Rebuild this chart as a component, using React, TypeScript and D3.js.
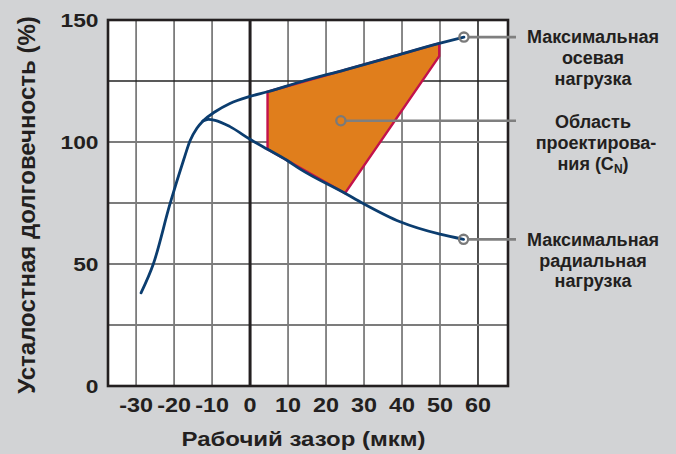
import React from "react";
import * as d3 from "d3";

// ---- data ----
const xTicks = [-30, -20, -10, 0, 10, 20, 30, 40, 50, 60];
const yTicks = [0, 50, 100, 150];
const yGrid = [25, 50, 75, 100, 125];

// rising part shared by both curves (gap µm, life %)
const risingCurve: [number, number][] = [
  [-28.7, 38.2], [-25.4, 50.3], [-21.1, 74.5], [-17.5, 92.6],
  [-15.8, 100.5], [-14.0, 105.6], [-12.4, 108.6],
];
// maximum axial load branch
const axialBranch: [number, number][] = [
  [-9.2, 112.4], [-5.3, 115.8], [0, 118.7], [4.6, 120.6], [13.2, 124.6],
  [25, 129.6], [37, 134.8], [49.8, 140.4], [56.3, 143.0],
];
// maximum radial load branch
const radialBranch: [number, number][] = [
  [-12.4, 108.6], [-11.0, 109.3], [-9.2, 108.9], [-5.3, 106.3], [0, 101.1],
  [4.6, 97.0], [9.6, 92.6], [13.2, 88.9], [25, 79.0], [29.8, 74.8],
  [39.5, 67.3], [50, 62.2], [56.2, 60.1],
];
// design region (C_N)
const designRegion: [number, number][] = [
  [4.6, 120.6], [49.8, 140.4], [49.8, 135.2], [25, 79.0], [4.6, 97.0],
];
// callout anchor points
const callouts: [number, number][] = [
  [56.3, 143.0],
  [23.9, 108.7],
  [56.2, 60.1],
];
const labelAxial = ["Максимальная", "осевая", "нагрузка"];
const labelRegion = ["Область", "проектирова-", "ния (C", "N", ")"];
const labelRadial = ["Максимальная", "радиальная", "нагрузка"];
const xTitle = "Рабочий зазор (мкм)";
const yTitle = "Усталостная долговечность (%)";

const W = 676;
const H = 454;
const FONT = "'Liberation Sans', Arial, Helvetica, sans-serif";
const BLUE = "#0b3d6f";

export default function App() {
  const left = 108, right = 508, top = 20, bottom = 386;
  const x = d3.scaleLinear().domain([-37.4, 67.9]).range([left, right]);
  const y = d3.scaleLinear().domain([0, 150]).range([bottom, top]);

  const line = d3
    .line<[number, number]>()
    .x((d) => x(d[0]))
    .y((d) => y(d[1]))
    .curve(d3.curveMonotoneX);
  const poly = d3
    .line<[number, number]>()
    .x((d) => x(d[0]))
    .y((d) => y(d[1]))
    .curve(d3.curveLinearClosed);

  const axialPath = line([...risingCurve, ...axialBranch]) || "";
  const radialPath = line(radialBranch) || "";
  const leaderEnd = right + 8;
  const labelX = 593;

  return (
    <div style={{ position: "fixed", left: 0, top: 0 }}>
      <svg width={W} height={H} viewBox={`0 0 ${W} ${H}`} style={{ display: "block" }}>
        <rect x={0} y={0} width={W} height={H} fill="#d2d3d5" />
        <rect x={left} y={top} width={right - left} height={bottom - top} fill="#ffffff" />

        {/* grid */}
        {xTicks
          .filter((t) => t !== 0)
          .map((t) => (
            <line key={"vx" + t} x1={x(t)} x2={x(t)} y1={top} y2={bottom}
              stroke={t === 60 ? "#3a3a3a" : "#7c7c7c"} strokeWidth={1.8} />
          ))}
        {yGrid.map((t) => (
          <line key={"hy" + t} x1={left} x2={right} y1={y(t)} y2={y(t)}
            stroke={t === 125 ? "#222" : "#7c7c7c"} strokeWidth={t === 125 ? 1.3 : 1.8} />
        ))}
        <line x1={x(0)} x2={x(0)} y1={top} y2={bottom} stroke="#231f20" strokeWidth={3} />

        {/* design region */}
        <path d={poly(designRegion) || ""} fill="#e07e1c" stroke="#c3124b"
          strokeWidth={2.4} strokeLinejoin="miter" />

        {/* curves */}
        <path d={axialPath} fill="none" stroke={BLUE} strokeWidth={2.8} strokeLinecap="round" />
        <path d={radialPath} fill="none" stroke={BLUE} strokeWidth={2.8} strokeLinecap="round" />

        {/* frame */}
        <rect x={left} y={top} width={right - left} height={bottom - top}
          fill="none" stroke="#231f20" strokeWidth={2.6} />

        {/* callouts */}
        {callouts.map((c, i) => (
          <g key={"c" + i}>
            <line x1={x(c[0]) + 4.5} x2={leaderEnd} y1={y(c[1])} y2={y(c[1])}
              stroke="#7f7f7f" strokeWidth={2.6} />
            <circle cx={x(c[0])} cy={y(c[1])} r={4.6} fill="none"
              stroke="#7a7a7a" strokeWidth={2.3} />
          </g>
        ))}

        {/* y tick labels */}
        {yTicks.map((t) => (
          <text key={"yt" + t} transform={`translate(98.5,${y(t) + 7}) scale(1.2,1)`}
            textAnchor="end" fontFamily={FONT} fontWeight="bold" fontSize={19} fill="#231f20">
            {t}
          </text>
        ))}
        {/* x tick labels */}
        {xTicks.map((t) => (
          <text key={"xt" + t} transform={`translate(${x(t)},412) scale(1.2,1)`}
            textAnchor="middle" fontFamily={FONT} fontWeight="bold" fontSize={19.5} fill="#231f20">
            {t}
          </text>
        ))}

        {/* axis titles */}
        <text transform="translate(303.5,446) scale(1.2,1)" textAnchor="middle"
          fontFamily={FONT} fontWeight="bold" fontSize={20} fill="#231f20">
          {xTitle}
        </text>
        <text transform="translate(34.5,205) rotate(-90)" textAnchor="middle"
          fontFamily={FONT} fontWeight="bold" fontSize={24} fill="#231f20">
          {yTitle}
        </text>

        {/* right labels */}
        <g fontFamily={FONT} fontWeight="bold" fontSize={18} fill="#231f20" textAnchor="middle">
          <text x={labelX} y={42.7}>{labelAxial[0]}</text>
          <text x={labelX} y={64}>{labelAxial[1]}</text>
          <text x={labelX} y={84.5}>{labelAxial[2]}</text>

          <text x={labelX} y={128.3}>{labelRegion[0]}</text>
          <text x={labelX + 3} y={148.8}>{labelRegion[1]}</text>
          <text x={labelX} y={170}>
            {labelRegion[2]}
            <tspan fontSize={12} dy={3}>{labelRegion[3]}</tspan>
            <tspan dy={-3}>{labelRegion[4]}</tspan>
          </text>

          <text x={labelX} y={246}>{labelRadial[0]}</text>
          <text x={labelX} y={266.7}>{labelRadial[1]}</text>
          <text x={labelX} y={287}>{labelRadial[2]}</text>
        </g>
      </svg>
    </div>
  );
}
